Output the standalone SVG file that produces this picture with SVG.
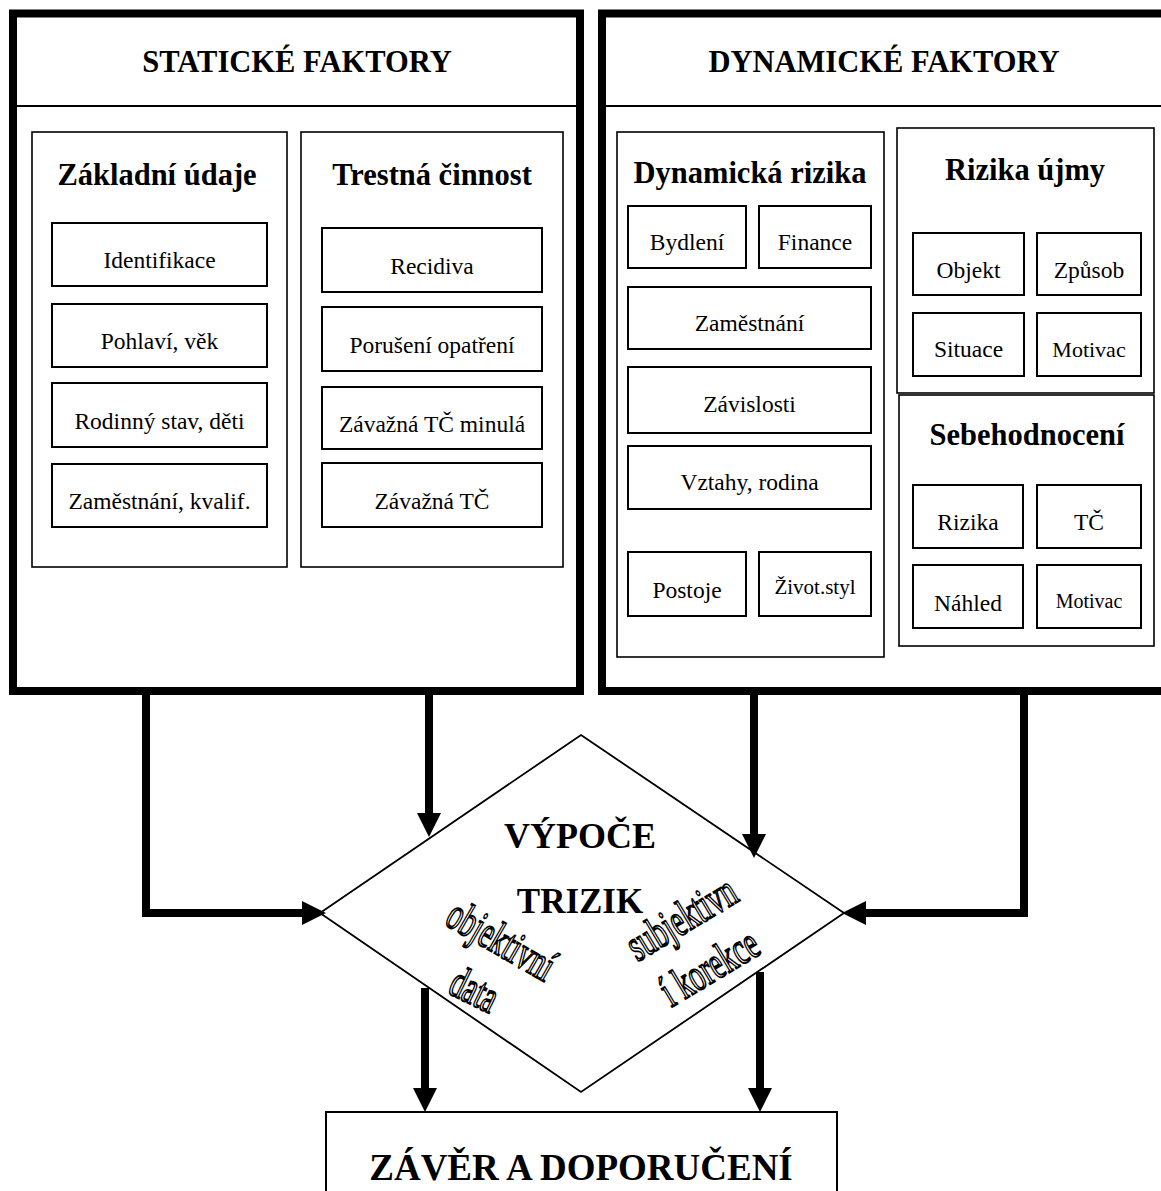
<svg xmlns="http://www.w3.org/2000/svg" width="1161" height="1191" viewBox="0 0 1161 1191">
<defs>
<style>
.frame{fill:#fff;stroke:#000;stroke-width:8}
.grp{fill:none;stroke:#000;stroke-width:1.6}
.box{fill:#fff;stroke:#000;stroke-width:2}
.sep{stroke:#000;stroke-width:2}
.h1{font-family:"Liberation Serif","Times New Roman",serif;font-weight:bold;font-size:30.5px;text-anchor:middle}
.h2{font-family:"Liberation Serif","Times New Roman",serif;font-weight:bold;font-size:30.5px;text-anchor:middle}
.t{font-family:"Liberation Serif","Times New Roman",serif;font-size:23.5px;text-anchor:middle}
.big{font-family:"Liberation Serif","Times New Roman",serif;font-weight:bold;text-anchor:middle}
.wa{font-family:"Liberation Serif","Times New Roman",serif;font-size:38px;fill:#fff;stroke:#000;stroke-width:1.6;text-anchor:middle}
.con{fill:none;stroke:#000;stroke-width:8;marker-end:url(#ah)}
</style>
<marker id="ah" markerUnits="userSpaceOnUse" viewBox="0 0 24 24" markerWidth="24" markerHeight="24" refX="0" refY="12" orient="auto">
<path d="M0,0 L24,12 L0,24 z" fill="#000"/>
</marker>
</defs>
<rect width="1161" height="1191" fill="#fff"/>

<g id="static">
<rect class="frame" x="13" y="13.5" width="567" height="677.5"/>
<line class="sep" x1="17" y1="106" x2="576" y2="106"/>
<text class="h1" x="297" y="72">STATICKÉ FAKTORY</text>
</g>

<g id="dynamic">
<rect class="frame" x="602" y="13.5" width="600" height="677.5"/>
<line class="sep" x1="606" y1="106" x2="1161" y2="106"/>
<text class="h1" x="884" y="72">DYNAMICKÉ FAKTORY</text>
</g>

<g id="zakladni">
<rect class="grp" x="32" y="132" width="255" height="435"/>
<text class="h2" x="157" y="185">Základní údaje</text>
<g id="identifikace"><rect class="box" x="52" y="223" width="215" height="63"/><text class="t" x="159.5" y="268">Identifikace</text></g>
<g id="pohlavi"><rect class="box" x="52" y="304" width="215" height="63"/><text class="t" x="159.5" y="349">Pohlaví, věk</text></g>
<g id="rodinny"><rect class="box" x="52" y="383" width="215" height="64"/><text class="t" x="159.5" y="429">Rodinný stav, děti</text></g>
<g id="zamestnani-kval"><rect class="box" x="52" y="464" width="215" height="63"/><text class="t" x="159.5" y="509">Zaměstnání, kvalif.</text></g>
</g>

<g id="trestna">
<rect class="grp" x="301" y="132" width="262" height="435"/>
<text class="h2" x="432" y="185">Trestná činnost</text>
<g id="recidiva"><rect class="box" x="322" y="228" width="220" height="64"/><text class="t" x="432" y="274">Recidiva</text></g>
<g id="poruseni"><rect class="box" x="322" y="307" width="220" height="64"/><text class="t" x="432" y="353">Porušení opatření</text></g>
<g id="zavazna-minula"><rect class="box" x="322" y="387" width="220" height="62"/><text class="t" x="432" y="432">Závažná TČ minulá</text></g>
<g id="zavazna"><rect class="box" x="322" y="463" width="220" height="64"/><text class="t" x="432" y="509">Závažná TČ</text></g>
</g>

<g id="dyn-rizika">
<rect class="grp" x="617" y="132" width="267" height="525"/>
<text class="h2" x="750" y="183">Dynamická rizika</text>
<g id="bydleni"><rect class="box" x="628" y="206" width="118" height="62"/><text class="t" x="687" y="250">Bydlení</text></g>
<g id="finance"><rect class="box" x="759" y="206" width="112" height="62"/><text class="t" x="815" y="250">Finance</text></g>
<g id="zamestnani"><rect class="box" x="628" y="287" width="243" height="62"/><text class="t" x="749.5" y="331">Zaměstnání</text></g>
<g id="zavislosti"><rect class="box" x="628" y="367" width="243" height="66"/><text class="t" x="749.5" y="412">Závislosti</text></g>
<g id="vztahy"><rect class="box" x="628" y="446" width="243" height="63"/><text class="t" x="749.5" y="490">Vztahy, rodina</text></g>
<g id="postoje"><rect class="box" x="628" y="552" width="118" height="64"/><text class="t" x="687" y="598">Postoje</text></g>
<g id="zivotstyl"><rect class="box" x="759" y="552" width="112" height="64"/><text class="t" x="815" y="594" style="font-size:21px">Život.styl</text></g>
</g>

<g id="rizika-ujmy">
<rect class="grp" x="897" y="128" width="257" height="265"/>
<text class="h2" x="1025" y="180">Rizika újmy</text>
<g id="objekt"><rect class="box" x="913" y="233" width="111" height="62"/><text class="t" x="968.5" y="278">Objekt</text></g>
<g id="zpusob"><rect class="box" x="1037" y="233" width="104" height="62"/><text class="t" x="1089" y="278">Způsob</text></g>
<g id="situace"><rect class="box" x="913" y="313" width="111" height="63"/><text class="t" x="968.5" y="357">Situace</text></g>
<g id="motivac1"><rect class="box" x="1037" y="313" width="104" height="63"/><text class="t" x="1089" y="357" style="font-size:22px">Motivac</text></g>
</g>

<g id="sebehodnoceni">
<rect class="grp" x="899" y="395" width="255" height="251"/>
<text class="h2" x="1027" y="445">Sebehodnocení</text>
<g id="rizika"><rect class="box" x="913" y="485" width="110" height="63"/><text class="t" x="968" y="530">Rizika</text></g>
<g id="tc"><rect class="box" x="1037" y="485" width="104" height="63"/><text class="t" x="1089" y="530">TČ</text></g>
<g id="nahled"><rect class="box" x="913" y="565" width="110" height="63"/><text class="t" x="968" y="611">Náhled</text></g>
<g id="motivac2"><rect class="box" x="1037" y="565" width="104" height="63"/><text class="t" x="1089" y="608" style="font-size:20px">Motivac</text></g>
</g>

<g id="vypocet">
<polygon points="581,735 844,913 581,1092 320,913" fill="#fff" stroke="#000" stroke-width="1.8"/>
<text class="big" x="580" y="848" style="font-size:36px">VÝPOČE</text>
<text class="big" x="580" y="913" style="font-size:35px">TRIZIK</text>
<text class="wa" transform="translate(494,953) rotate(30) scale(0.76,1.2)">objektivní</text>
<text class="wa" transform="translate(468,1003) rotate(26) scale(0.76,1.2)">data</text>
<text class="wa" transform="translate(689,931) rotate(-31) scale(0.76,1.2)">subjektivn</text>
<text class="wa" transform="translate(717,980) rotate(-31) scale(0.76,1.2)">í korekce</text>
</g>

<g id="zaver">
<rect class="box" x="326" y="1112" width="511" height="100"/>
<text class="big" x="581" y="1180" style="font-size:37px">ZÁVĚR A DOPORUČENÍ</text>
</g>

<g id="connectors">
<path class="con" d="M146,691 V913 H302"/>
<path class="con" d="M429,691 V813"/>
<path class="con" d="M754,691 V834"/>
<path class="con" d="M1024,691 V913 H866"/>
<path class="con" d="M425,988 V1088"/>
<path class="con" d="M760,972 V1088"/>
</g>
</svg>
